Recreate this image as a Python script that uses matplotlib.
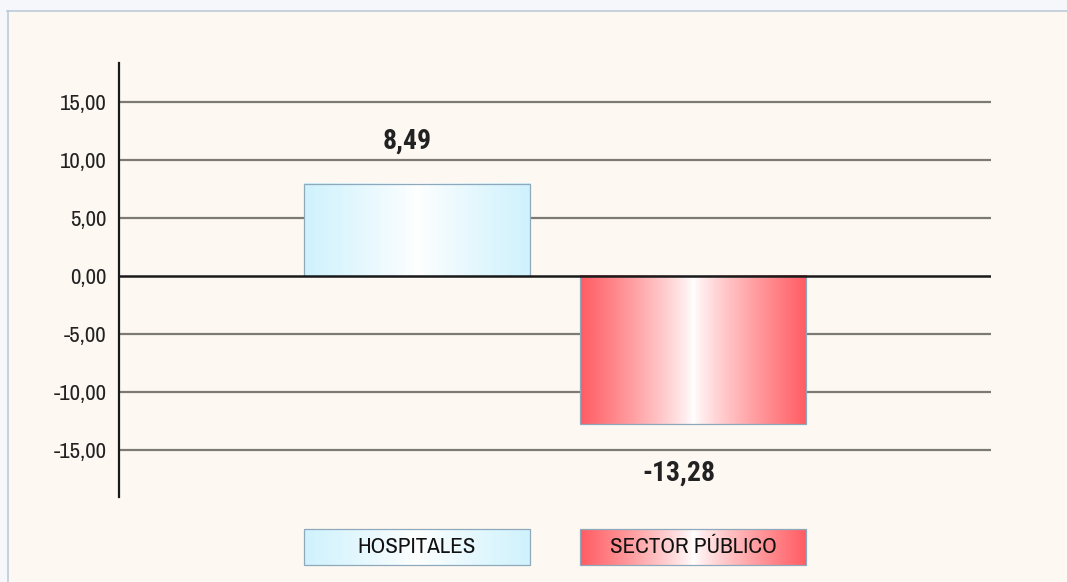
import matplotlib.pyplot as plt
import numpy as np
from matplotlib.patches import Rectangle
from matplotlib.ticker import FuncFormatter

plt.rcParams['font.family'] = ['Archivo Narrow', 'Liberation Sans', 'DejaVu Sans']
bold_family = ['Roboto Condensed', 'Fira Sans Condensed', 'DejaVu Sans']

categories = ["HOSPITALES", "SECTOR PÚBLICO"]
bar_heights = [7.95, -12.8]          # heights as drawn in the picture
value_labels = ["8,49", "-13,28"]    # labels as printed
edge_colors = ["#cff2fd", "#ff5c62"]
yticks = [-15, -10, -5, 0, 5, 10, 15]

bg = "#fdf8f2"
W, H = 1067, 582

fig = plt.figure(figsize=(W / 100, H / 100), dpi=100)
fig.patch.set_facecolor(bg)
# light frame strip on top and left with thin border line
fig.patches.append(Rectangle((0, 1 - 10 / H), 1, 10 / H, transform=fig.transFigure,
                             facecolor="#f5f7fa", edgecolor="none", zorder=0))
fig.patches.append(Rectangle((0, 0), 7 / W, 1, transform=fig.transFigure,
                             facecolor="#f5f7fa", edgecolor="none", zorder=0))
fig.add_artist(plt.Line2D([7 / W, 1], [1 - 10.5 / H, 1 - 10.5 / H], transform=fig.transFigure,
                          color="#bccbdb", lw=1.2))
fig.add_artist(plt.Line2D([7.5 / W, 7.5 / W], [0, 1 - 10.5 / H], transform=fig.transFigure,
                          color="#bccbdb", lw=1.2))


def gradient(edge):
    p = np.abs(np.linspace(-1, 1, 300)) ** 0.85
    c = np.array(plt.matplotlib.colors.to_rgb(edge))
    img = (1 - p)[:, None] * np.ones(3) + p[:, None] * c
    return img[None, :, :]


ax = fig.add_axes([119 / W, (H - 497) / H, 872 / W, 434 / H])
ax.set_facecolor("none")
x = np.arange(len(categories))
bars = ax.bar(x, bar_heights, width=0.82, facecolor="none", edgecolor="#8ea9bb", lw=0.9, zorder=3)
for b, col in zip(bars, edge_colors):
    x0, y0, w, h = b.get_x(), b.get_y(), b.get_width(), b.get_height()
    ax.imshow(gradient(col), extent=[x0, x0 + w, min(y0, y0 + h), max(y0, y0 + h)],
              aspect="auto", zorder=2, interpolation="bilinear")

for yv in yticks:
    if yv != 0:
        ax.axhline(yv, color="#7d7a75", lw=1.6, zorder=1)
ax.axhline(0, color="#1a1a1a", lw=1.8, zorder=4)

ax.set_xlim(-1.08, 2.08)
ax.set_ylim(-19.1, 18.4)
ax.set_yticks(yticks)
ax.yaxis.set_major_formatter(FuncFormatter(lambda v, p: f"{v:.2f}".replace(".", ",")))
ax.tick_params(axis="y", length=0, pad=9, labelsize=16.5, labelcolor="#222222")
ax.set_xticks([])
for s in ["top", "right", "bottom"]:
    ax.spines[s].set_visible(False)
ax.spines["left"].set_linewidth(1.6)
ax.spines["left"].set_color("#1a1a1a")

for i, (hv, lab) in enumerate(zip(bar_heights, value_labels)):
    dy = 31 if hv > 0 else -35
    dx = -7 if hv > 0 else -10
    ax.annotate(lab, (x[i], hv), xytext=(dx, dy), textcoords="offset points",
                ha="center", va="center", fontsize=20, fontweight="bold", color="#222222",
                family=bold_family)

# legend boxes aligned under the bars
lax = fig.add_axes([119 / W, (H - 565) / H, 872 / W, 36 / H])
lax.set_xlim(ax.get_xlim())
lax.set_ylim(0, 1)
lax.axis("off")
lbars = lax.bar(x, [1, 1], width=0.82, facecolor="none", edgecolor="#8ea9bb", lw=0.9, zorder=3,
                clip_on=False)
for b, col, name in zip(lbars, edge_colors, categories):
    x0, w = b.get_x(), b.get_width()
    lax.imshow(gradient(col), extent=[x0, x0 + w, 0, 1], aspect="auto", zorder=2,
               interpolation="bilinear")
    lax.text(x0 + w / 2, 0.5, name, ha="center", va="center", fontsize=16.5, color="#111111", zorder=4)

fig.savefig("out.png", dpi=100, facecolor=bg)
